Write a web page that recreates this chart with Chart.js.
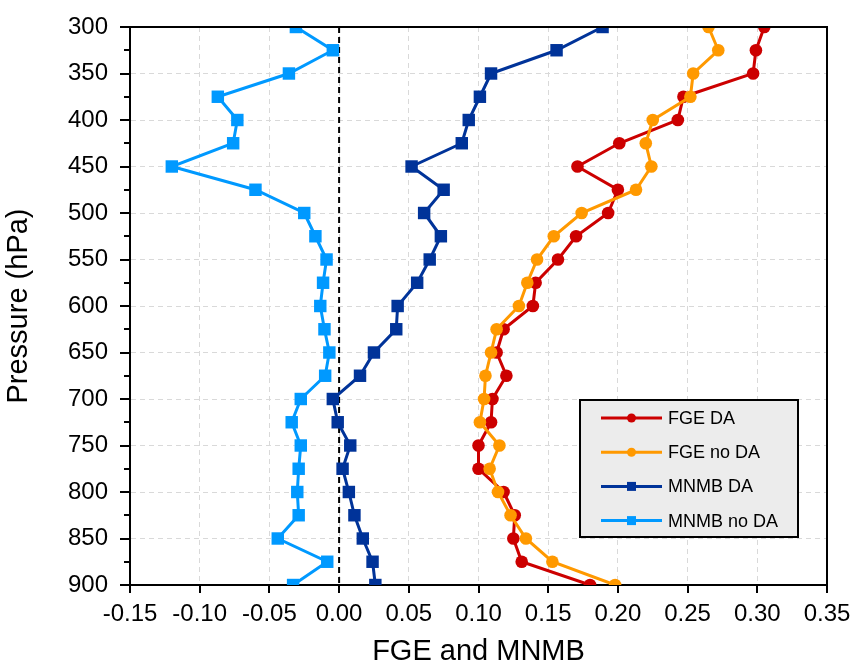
<!DOCTYPE html>
<html>
<head>
<meta charset="utf-8">
<script src="https://cdn.jsdelivr.net/npm/chart.js@4/dist/chart.umd.min.js"></script>
<style>
  html, body { margin: 0; padding: 0; background: #ffffff; }
  #wrap { width: 856px; height: 669px; }
</style>
</head>
<body>
<div id="wrap"><canvas id="c" width="856" height="669"></canvas></div>
<script>
// ---- data ----
const pressureLevels = [300,325,350,375,400,425,450,475,500,525,550,575,600,625,650,675,700,725,750,775,800,825,850,875,900];
const fgeDA    = [0.305,0.299,0.297,0.247,0.243,0.201,0.171,0.200,0.193,0.170,0.157,0.141,0.139,0.118,0.113,0.120,0.110,0.109,0.100,0.100,0.118,0.126,0.125,0.131,0.180];
const fgeNoDA  = [0.265,0.272,0.254,0.252,0.225,0.220,0.224,0.213,0.174,0.154,0.142,0.135,0.129,0.113,0.109,0.105,0.104,0.101,0.115,0.108,0.114,0.123,0.134,0.153,0.198];
const mnmbDA   = [0.189,0.156,0.109,0.101,0.093,0.088,0.052,0.075,0.061,0.073,0.065,0.056,0.042,0.041,0.025,0.015,-0.0045,-0.001,0.008,0.0025,0.007,0.011,0.017,0.024,0.026];
const mnmbNoDA = [-0.031,-0.0045,-0.036,-0.087,-0.073,-0.076,-0.120,-0.060,-0.025,-0.017,-0.009,-0.0115,-0.0135,-0.0105,-0.007,-0.010,-0.0275,-0.034,-0.0275,-0.029,-0.030,-0.029,-0.044,-0.0085,-0.033];
const zeroLineX = [0, 0];
const zeroLineP = [300, 900];
const seriesNames = ['FGE DA', 'FGE no DA', 'MNMB DA', 'MNMB no DA'];
const xTitle = 'FGE and MNMB';
const yTitle = 'Pressure (hPa)';

const FONT = "'Liberation Sans', Arial, sans-serif";
const toPts = (vals) => vals.map((v, i) => ({ x: v, y: pressureLevels[i] }));

const styles = [
  { color: '#cc0000', shape: 'circle', radius: 6.3, order: 2 },
  { color: '#ff9900', shape: 'circle', radius: 6.3, order: 1 },
  { color: '#003399', shape: 'rect',   radius: 8.8, order: 4 },
  { color: '#0099ff', shape: 'rect',   radius: 8.8, order: 3 },
];
const seriesData = [fgeDA, fgeNoDA, mnmbDA, mnmbNoDA];

const datasets = seriesData.map((vals, i) => ({
  label: seriesNames[i],
  data: toPts(vals),
  borderColor: styles[i].color,
  backgroundColor: styles[i].color,
  borderWidth: 3,
  pointStyle: styles[i].shape,
  pointRadius: styles[i].radius,
  pointBorderWidth: 0,
  pointBackgroundColor: styles[i].color,
  showLine: true,
  tension: 0,
  order: styles[i].order
}));
datasets.push({
  label: 'zero',
  data: zeroLineX.map((v, i) => ({ x: v, y: zeroLineP[i] })),
  borderColor: '#000000',
  borderWidth: 2,
  borderDash: [6, 4],
  pointRadius: 0,
  showLine: true,
  order: 10
});

const decor = {
  id: 'decor',
  afterDraw(chart) {
    const { ctx, chartArea: a, scales: { x, y } } = chart;
    ctx.save();
    ctx.strokeStyle = '#000';
    ctx.lineWidth = 2;
    ctx.setLineDash([]);
    // frame top/right
    ctx.beginPath();
    ctx.moveTo(a.left - 1, a.top);
    ctx.lineTo(a.right, a.top);
    ctx.lineTo(a.right, a.bottom + 1);
    ctx.stroke();
    // y tick marks
    ctx.beginPath();
    y.ticks.forEach(t => {
      const py = Math.round(y.getPixelForValue(t.value));
      const len = (t.value % 50 === 0) ? 10 : 6;
      ctx.moveTo(a.left - len, py);
      ctx.lineTo(a.left, py);
    });
    // x tick marks
    x.ticks.forEach(t => {
      const px = Math.round(x.getPixelForValue(t.value));
      ctx.moveTo(px, a.bottom);
      ctx.lineTo(px, a.bottom + 8);
    });
    ctx.stroke();

    // legend
    const bx = a.left + 450, by = a.top + 373, bw = 218, bh = 137;
    ctx.fillStyle = '#ececec';
    ctx.fillRect(bx, by, bw, bh);
    ctx.lineWidth = 2;
    ctx.strokeStyle = '#000';
    ctx.strokeRect(bx, by, bw, bh);
    ctx.font = '18px ' + FONT;
    ctx.textBaseline = 'middle';
    ctx.textAlign = 'left';
    seriesNames.forEach((name, i) => {
      const ry = by + 18 + i * 34.2;
      const st = styles[i];
      ctx.strokeStyle = st.color;
      ctx.fillStyle = st.color;
      ctx.lineWidth = 3;
      ctx.beginPath();
      ctx.moveTo(bx + 21, ry);
      ctx.lineTo(bx + 82, ry);
      ctx.stroke();
      const cx = bx + 51.5;
      if (st.shape === 'circle') {
        ctx.beginPath();
        ctx.arc(cx, ry, 4.5, 0, Math.PI * 2);
        ctx.fill();
      } else {
        ctx.fillRect(cx - 4.5, ry - 4.5, 9, 9);
      }
      ctx.fillStyle = '#000';
      ctx.fillText(name, bx + 88, ry + 1);
    });
    ctx.restore();
  }
};

new Chart(document.getElementById('c'), {
  type: 'line',
  data: { datasets },
  options: {
    responsive: false,
    animation: false,
    events: [],
    layout: { padding: { left: 0, right: 29, top: 27, bottom: 0 } },
    plugins: { legend: { display: false }, tooltip: { enabled: false } },
    scales: {
      x: {
        type: 'linear',
        min: -0.15, max: 0.35,
        afterFit(s) { s.height = 84; },
        ticks: {
          stepSize: 0.05,
          padding: 0,
          color: '#000',
          font: { family: FONT, size: 24 },
          maxRotation: 0,
          autoSkip: false,
          callback: v => (Math.abs(v) < 1e-9 ? 0 : v).toFixed(2)
        },
        grid: { color: '#d9d9d9', lineWidth: 1, drawTicks: true, tickLength: 15, tickColor: 'rgba(0,0,0,0)' },
        border: { color: '#000', width: 2, dash: [5, 4] },
        title: {
          display: true, text: xTitle, color: '#000',
          font: { family: FONT, size: 29 }, padding: { top: 0, bottom: 0 }
        }
      },
      y: {
        type: 'linear',
        reverse: true,
        min: 300, max: 900,
        afterFit(s) { s.width = 130; },
        ticks: {
          stepSize: 25,
          padding: 0,
          color: '#000',
          font: { family: FONT, size: 24 },
          autoSkip: false,
          callback: v => (v % 50 === 0 ? String(v) : '')
        },
        grid: {
          color: c => (c.tick && c.tick.value % 50 === 0) ? '#d9d9d9' : 'rgba(0,0,0,0)',
          lineWidth: 1, drawTicks: true, tickLength: 22, tickColor: 'rgba(0,0,0,0)'
        },
        border: { color: '#000', width: 2, dash: [5, 4] },
        title: {
          display: true, text: yTitle, color: '#000',
          font: { family: FONT, size: 29 }, padding: { top: 2, bottom: 0 }
        }
      }
    }
  },
  plugins: [decor]
});
</script>
</body>
</html>
